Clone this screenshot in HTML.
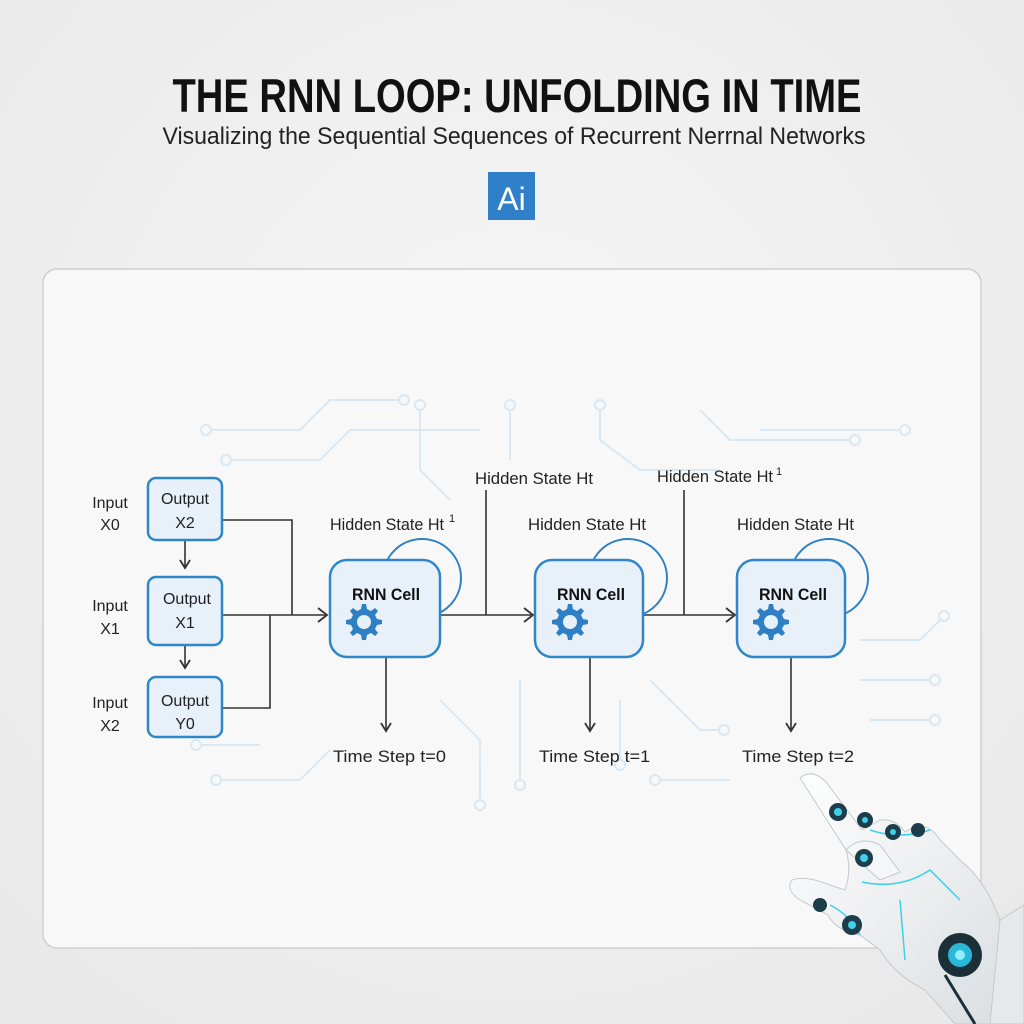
<!DOCTYPE html>
<html><head><meta charset="utf-8"><style>
html,body{margin:0;padding:0;background:#efefef;}
svg{display:block}
text{font-family:"Liberation Sans",sans-serif;}
</style></head><body>
<svg width="1024" height="1024" viewBox="0 0 1024 1024" xmlns="http://www.w3.org/2000/svg">
<defs>
<radialGradient id="bg" cx="50%" cy="40%" r="70%"><stop offset="0" stop-color="#f6f6f6"/><stop offset="1" stop-color="#e9e9e9"/></radialGradient>
<linearGradient id="hand" x1="0" y1="0" x2="1" y2="1"><stop offset="0" stop-color="#ffffff"/><stop offset="1" stop-color="#d9dde0"/></linearGradient>
<g id="gear"><path d="M0,-17 L4,-17 L5,-12 L9,-10 L13,-13 L16,-10 L13,-6 L15,-2 L20,-1 L20,3 L15,4 L13,8 L16,12 L13,15 L9,12 L5,14 L4,19 L0,19 L-1,14 L-5,12 L-9,15 L-12,12 L-9,8 L-11,4 L-16,3 L-16,-1 L-11,-2 L-9,-6 L-12,-10 L-9,-13 L-5,-10 L-1,-12 Z" fill="#2f7fc4" transform="translate(-2,-1)"/><circle cx="0" cy="0" r="7" fill="#e6f1fa"/></g>
</defs>
<rect width="1024" height="1024" fill="url(#bg)"/>
<text x="517" y="112" font-size="47" font-weight="bold" text-anchor="middle" textLength="689" lengthAdjust="spacingAndGlyphs" fill="#111">THE RNN LOOP: UNFOLDING IN TIME</text>
<text x="514" y="144" font-size="24" text-anchor="middle" textLength="703" lengthAdjust="spacingAndGlyphs" fill="#222">Visualizing the Sequential Sequences of Recurrent Nerrnal Networks</text>
<rect x="488" y="172" width="47" height="48" fill="#2f80c8"/>
<text x="511.5" y="210" font-size="32" text-anchor="middle" fill="#fff">Ai</text>
<rect x="43" y="269" width="938" height="679" rx="14" fill="#f8f8f8" stroke="#cfcfcf" stroke-width="1.5"/>
<g stroke="#d6e7f2" stroke-width="2" fill="none" opacity="0.9">
<path d="M210,430 H300 L330,400 H400"/><circle cx="206" cy="430" r="5"/><circle cx="404" cy="400" r="5"/>
<path d="M230,460 H320 L350,430 H480"/><circle cx="226" cy="460" r="5"/>
<path d="M600,410 V440 L640,470 H720"/><circle cx="600" cy="405" r="5"/>
<path d="M700,410 L730,440 H850"/><circle cx="855" cy="440" r="5"/>
<path d="M760,430 H900"/><circle cx="905" cy="430" r="5"/>
<path d="M420,410 V470 L450,500"/><circle cx="420" cy="405" r="5"/>
<path d="M510,410 V460"/><circle cx="510" cy="405" r="5"/>
<path d="M220,780 H300 L330,750"/><circle cx="216" cy="780" r="5"/>
<path d="M200,745 H260"/><circle cx="196" cy="745" r="5"/>
<path d="M440,700 L480,740 V800"/><circle cx="480" cy="805" r="5"/>
<path d="M520,680 V780"/><circle cx="520" cy="785" r="5"/>
<path d="M650,680 L700,730 H720"/><circle cx="724" cy="730" r="5"/>
<path d="M660,780 H730"/><circle cx="655" cy="780" r="5"/>
<path d="M860,680 H930"/><circle cx="935" cy="680" r="5"/>
<path d="M860,640 H920 L940,620"/><circle cx="944" cy="616" r="5"/>
<path d="M870,720 H930"/><circle cx="935" cy="720" r="5"/>
<path d="M620,700 V760"/><circle cx="620" cy="765" r="5"/>
</g>
<g stroke="#333" stroke-width="1.6" fill="none">
<path d="M222,520 H292 V615"/>
<path d="M222,615 H326"/>
<path d="M222,708 H270 V615"/>
<path d="M185,540 V567"/><path d="M185,645 V667"/>
<path d="M440,615 H531"/><path d="M486,490 V615"/>
<path d="M643,615 H733"/><path d="M684,490 V615"/>
<path d="M386,657 V730"/><path d="M590,657 V730"/><path d="M791,657 V730"/>
</g>
<g stroke="#333" stroke-width="1.8" fill="none">
<path d="M318,608 L327,615 L318,622"/>
<path d="M524,608 L533,615 L524,622"/>
<path d="M726,608 L735,615 L726,622"/>
<path d="M180,560 L185,568 L190,560"/><path d="M180,660 L185,668 L190,660"/>
<path d="M381,723 L386,731 L391,723"/><path d="M585,723 L590,731 L595,723"/><path d="M786,723 L791,731 L796,723"/>
</g>
<g stroke="#2f80c4" stroke-width="2" fill="none">
<circle cx="422" cy="578" r="39"/><circle cx="628" cy="578" r="39"/><circle cx="829" cy="578" r="39"/>
</g>
<g fill="#e8f1f9" stroke="#2f86c8" stroke-width="2.5">
<rect x="148" y="478" width="74" height="62" rx="8"/>
<rect x="148" y="577" width="74" height="68" rx="8"/>
<rect x="148" y="677" width="74" height="60" rx="8"/>
<rect x="330" y="560" width="110" height="97" rx="17"/>
<rect x="535" y="560" width="108" height="97" rx="17"/>
<rect x="737" y="560" width="108" height="97" rx="17"/>
</g>
<g font-size="16" fill="#222" text-anchor="middle">
<text x="185" y="504" textLength="48" lengthAdjust="spacingAndGlyphs">Output</text><text x="185" y="528">X2</text>
<text x="187" y="604" textLength="48" lengthAdjust="spacingAndGlyphs">Output</text><text x="185" y="628">X1</text>
<text x="185" y="706" textLength="48" lengthAdjust="spacingAndGlyphs">Output</text><text x="185" y="729">Y0</text>
<text x="110" y="508">Input</text><text x="110" y="530">X0</text>
<text x="110" y="611">Input</text><text x="110" y="634">X1</text>
<text x="110" y="708">Input</text><text x="110" y="731">X2</text>
</g>
<g font-size="17" font-weight="bold" fill="#111" text-anchor="middle">
<text x="386" y="600" textLength="68" lengthAdjust="spacingAndGlyphs">RNN Cell</text><text x="591" y="600" textLength="68" lengthAdjust="spacingAndGlyphs">RNN Cell</text><text x="793" y="600" textLength="68" lengthAdjust="spacingAndGlyphs">RNN Cell</text>
</g>
<use href="#gear" x="364" y="622"/><use href="#gear" x="570" y="622"/><use href="#gear" x="771" y="622"/>
<g font-size="17" fill="#222">
<text x="330" y="530" textLength="114" lengthAdjust="spacingAndGlyphs">Hidden State Ht</text><text x="449" y="522" font-size="11">1</text>
<text x="475" y="484" textLength="118" lengthAdjust="spacingAndGlyphs">Hidden State Ht</text>
<text x="528" y="530" textLength="118" lengthAdjust="spacingAndGlyphs">Hidden State Ht</text>
<text x="657" y="482" textLength="116" lengthAdjust="spacingAndGlyphs">Hidden State Ht</text><text x="776" y="475" font-size="11">1</text>
<text x="737" y="530" textLength="117" lengthAdjust="spacingAndGlyphs">Hidden State Ht</text>
<text x="333" y="762" textLength="113" lengthAdjust="spacingAndGlyphs">Time Step t=0</text>
<text x="539" y="762" textLength="111" lengthAdjust="spacingAndGlyphs">Time Step t=1</text>
<text x="742" y="762" textLength="112" lengthAdjust="spacingAndGlyphs">Time Step t=2</text>
</g>
<!-- robot hand -->
<g stroke="#c4c9cd" stroke-width="1">
<path d="M800,778 Q812,768 826,782 L862,830 L880,820 Q895,818 905,832 L915,826 Q930,824 940,840 L962,862 Q985,880 1000,920 L1024,960 V1024 H955 L925,990 Q895,975 880,950 L860,935 Q835,930 828,915 L800,900 Q785,890 792,880 Q805,875 830,885 L845,890 Q852,870 846,850 Z" fill="url(#hand)"/>
<path d="M846,850 Q860,835 880,845 L900,872 L880,880 Z" fill="#f4f6f7"/>
<path d="M1000,920 L1024,905 V1024 H990 Z" fill="#e6e9eb"/>
</g>
<path d="M870,830 Q900,840 930,830 M862,882 Q900,890 930,870 L960,900 M900,900 L905,960 M830,905 Q850,915 860,935" stroke="#3ad0ea" stroke-width="1.5" fill="none"/>
<circle cx="838" cy="812" r="9" fill="#1d3d4a"/><circle cx="838" cy="812" r="4" fill="#3fd0ea"/>
<circle cx="865" cy="820" r="8" fill="#1d3d4a"/><circle cx="865" cy="820" r="3" fill="#3fd0ea"/>
<circle cx="893" cy="832" r="8" fill="#1d3d4a"/><circle cx="893" cy="832" r="3" fill="#3fd0ea"/>
<circle cx="918" cy="830" r="7" fill="#1d3d4a"/>
<circle cx="864" cy="858" r="9" fill="#1d3d4a"/><circle cx="864" cy="858" r="4" fill="#3fd0ea"/>
<circle cx="820" cy="905" r="7" fill="#1d3d4a"/><circle cx="852" cy="925" r="10" fill="#1d3d4a"/><circle cx="852" cy="925" r="4" fill="#3fd0ea"/>
<circle cx="960" cy="955" r="22" fill="#1a2f38"/><circle cx="960" cy="955" r="12" fill="#2bb8d8"/><circle cx="960" cy="955" r="5" fill="#8ff0ff"/>
<path d="M945,975 L975,1024" stroke="#1a2f38" stroke-width="3"/>
</svg>
</body></html>
